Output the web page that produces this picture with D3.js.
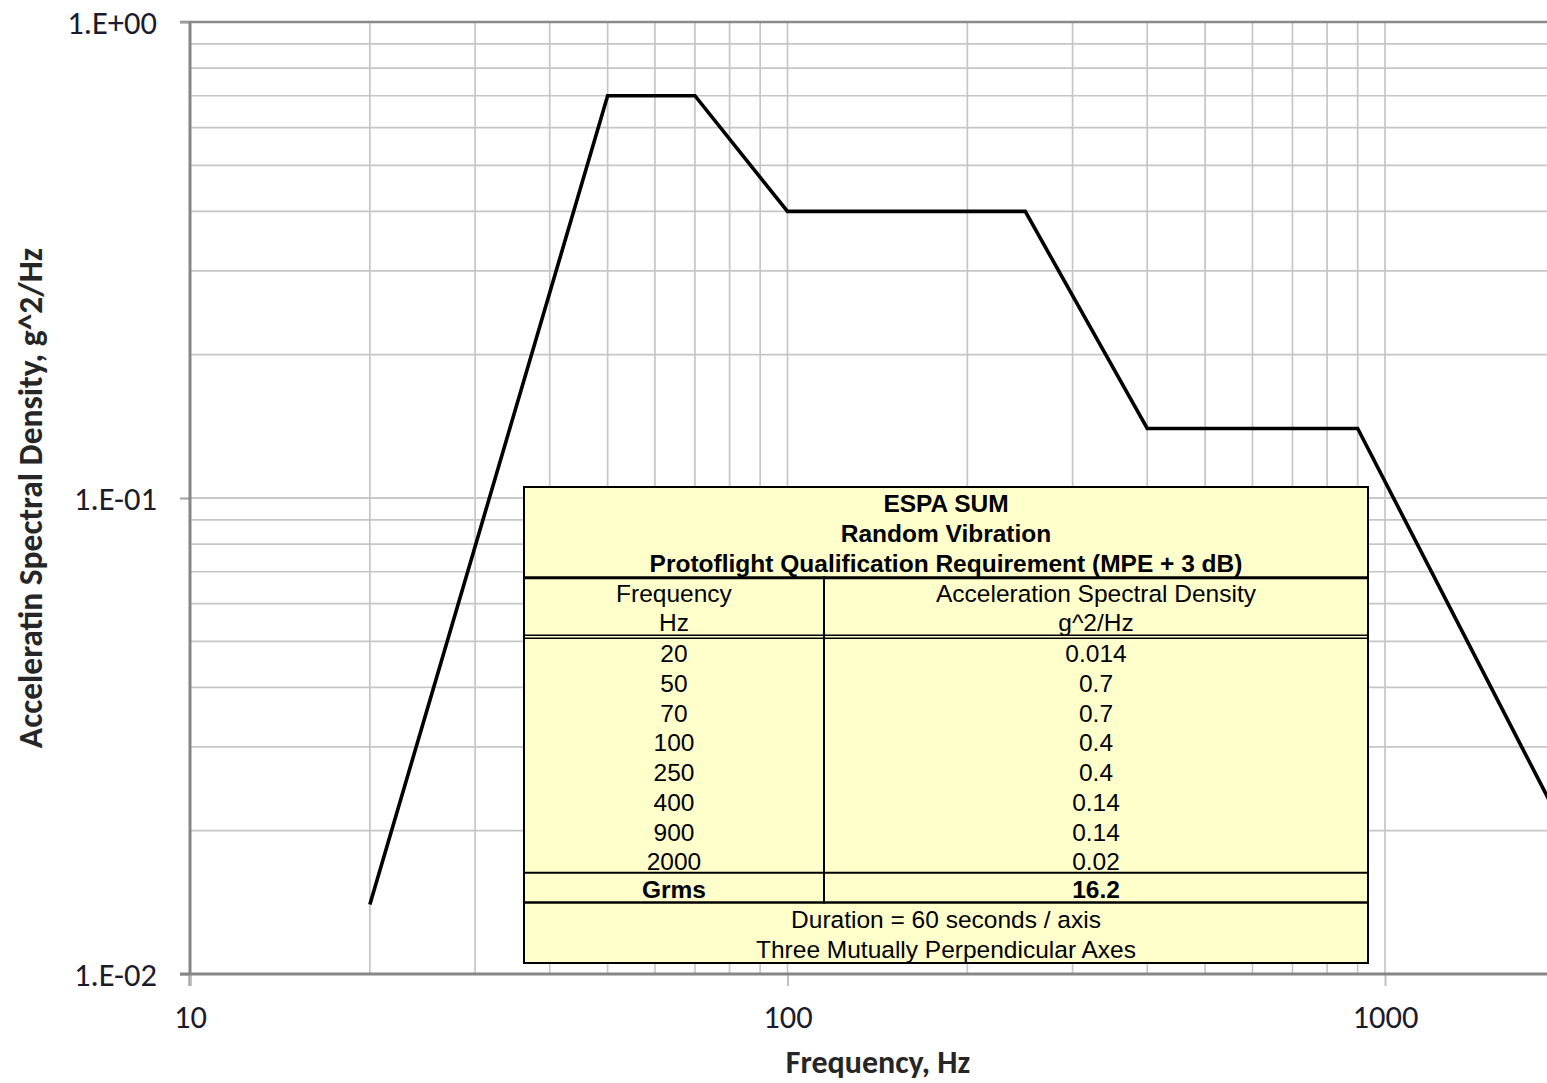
<!DOCTYPE html>
<html>
<head>
<meta charset="utf-8">
<script src="https://cdn.jsdelivr.net/npm/d3@7"></script>
<style>
  html, body { margin: 0; padding: 0; background: #fff; overflow: hidden; }
  svg { display: block; }
</style>
</head>
<body>
<svg id="chart" width="1547" height="1083"></svg>
<script>
// ---- data ----
const frequencies = [20, 50, 70, 100, 250, 400, 900, 2000];
const asd = [0.014, 0.7, 0.7, 0.4, 0.4, 0.14, 0.14, 0.02];
const freqLabels = ["20", "50", "70", "100", "250", "400", "900", "2000"];
const asdLabels = ["0.014", "0.7", "0.7", "0.4", "0.4", "0.14", "0.14", "0.02"];
const xTickValues = [10, 100, 1000];
const xTickLabels = ["10", "100", "1000"];
const yTickValues = [1, 0.1, 0.01];
const yTickLabels = ["1.E+00", "1.E-01", "1.E-02"];
const tableTitle = ["ESPA SUM", "Random Vibration", "Protoflight Qualification Requirement (MPE + 3 dB)"];
const tableHeader = [["Frequency", "Hz"], ["Acceleration Spectral Density", "g^2/Hz"]];
const grms = ["Grms", "16.2"];
const tableFooter = ["Duration = 60 seconds / axis", "Three Mutually Perpendicular Axes"];

const svg = d3.select("#chart");
const L = 190, T = 22, B = 974;
const decade = 597.5;
const R = L + Math.log10(2000 / 10) * decade;

const x = d3.scaleLog().domain([10, 2000]).range([L, R]);
const y = d3.scaleLog().domain([0.01, 1]).range([B, T]);

// minor grid values
const xGrid = [];
[10, 100, 1000].forEach(d => { for (let k = 1; k <= 9; k++) { const v = d * k; if (v <= 2000) xGrid.push(v); } });
const yGrid = [];
[0.01, 0.1].forEach(d => { for (let k = 1; k <= 10; k++) yGrid.push(+(d * k).toPrecision(3)); });

const grid = svg.append("g");
grid.selectAll("line.vg").data(xGrid.filter(v => v > 10)).join("line")
  .attr("x1", d => x(d)).attr("x2", d => x(d)).attr("y1", T).attr("y2", B)
  .attr("stroke", "#c6c6c6").attr("stroke-width", 1.7);
grid.selectAll("line.hg").data(yGrid.filter(v => v > 0.01 && v < 1)).join("line")
  .attr("x1", L).attr("x2", R).attr("y1", d => y(d)).attr("y2", d => y(d))
  .attr("stroke", "#c6c6c6").attr("stroke-width", 1.7);

// top border
svg.append("line").attr("x1", L - 10).attr("x2", R).attr("y1", T).attr("y2", T)
  .attr("stroke", "#8a8a8a").attr("stroke-width", 2.5);

const tickFont = "Carlito, Lato, 'Liberation Sans', sans-serif";

// axes
const yAxis = d3.axisLeft(y).tickValues(yTickValues).tickSize(10).tickFormat((d, i) => yTickLabels[i]);
const gy = svg.append("g").attr("transform", `translate(${L},0)`).call(yAxis);
gy.select(".domain").remove();
gy.append("line").attr("x1", 0).attr("x2", 0).attr("y1", T).attr("y2", B + 12)
  .attr("stroke", "#868686").attr("stroke-width", 3);
gy.selectAll(".tick line").attr("stroke", "#a0a0a0").attr("stroke-width", 2);
gy.selectAll(".tick text").attr("x", -33).attr("dy", "0.34em")
  .attr("fill", "#1b1b2b").style("font-family", tickFont).style("font-size", "32.5px");

const xAxis = d3.axisBottom(x).tickValues(xTickValues).tickSize(12).tickFormat((d, i) => xTickLabels[i]);
const gx = svg.append("g").attr("transform", `translate(0,${B})`).call(xAxis);
gx.select(".domain").remove();
gx.append("line").attr("x1", L - 10).attr("x2", R).attr("y1", 0).attr("y2", 0)
  .attr("stroke", "#868686").attr("stroke-width", 3);
gx.selectAll(".tick line").attr("stroke", "#c0c0c0").attr("stroke-width", 2);
gx.selectAll(".tick text").attr("y", 43).attr("dy", "0.34em")
  .attr("fill", "#1b1b2b").style("font-family", tickFont).style("font-size", "32.5px");

// line
const line = d3.line().x((d, i) => x(frequencies[i])).y(d => y(d));
svg.append("path").datum(asd).attr("d", line)
  .attr("fill", "none").attr("stroke", "#000").attr("stroke-width", 3.6).attr("stroke-linejoin", "miter");

// axis titles
svg.append("text").attr("transform", `translate(30,${(T + B) / 2}) rotate(-90)`)
  .attr("text-anchor", "middle").attr("dominant-baseline", "central")
  .style("font-family", tickFont).style("font-weight", "bold").style("font-size", "33.5px")
  .attr("fill", "#262626").text("Acceleratin Spectral Density, g^2/Hz");
svg.append("text").attr("x", 878).attr("y", 1062)
  .attr("text-anchor", "middle").attr("dominant-baseline", "central")
  .style("font-family", tickFont).style("font-weight", "bold").style("font-size", "32px")
  .attr("fill", "#262626").text("Frequency, Hz");

// table
const tL = 524, tR = 1368, tTop = 487, tBot = 963, colX = 824;
const nRows = tableTitle.length + 2 + frequencies.length + 1 + tableFooter.length;
const rowY = d3.scaleLinear().domain([0, nRows]).range([tTop, tBot]);
const tg = svg.append("g").style("font-family", "'Liberation Sans', Arial, sans-serif")
  .style("font-size", "24.5px").attr("fill", "#000");
tg.append("rect").attr("x", tL).attr("y", tTop).attr("width", tR - tL).attr("height", tBot - tTop)
  .attr("fill", "#ffffcc").attr("stroke", "#000").attr("stroke-width", 2);

const rTitleEnd = tableTitle.length;
const rHeadEnd = rTitleEnd + 2;
const rDataEnd = rHeadEnd + frequencies.length;
const rGrmsEnd = rDataEnd + 1;

function cellText(row, cx, txt, bold, dy) {
  tg.append("text").attr("x", cx).attr("y", rowY(row + 0.5) + 2 + (dy || 0))
    .attr("text-anchor", "middle").attr("dominant-baseline", "central")
    .style("font-weight", bold ? "bold" : "normal").text(txt);
}
const c1 = (tL + colX) / 2, c2 = (colX + tR) / 2, cAll = (tL + tR) / 2;
tableTitle.forEach((t, i) => cellText(i, cAll, t, true));
tableHeader[0].forEach((t, i) => cellText(rTitleEnd + i, c1, t, false));
tableHeader[1].forEach((t, i) => cellText(rTitleEnd + i, c2, t, false));
freqLabels.forEach((t, i) => cellText(rHeadEnd + i, c1, t, false, 1));
asdLabels.forEach((t, i) => cellText(rHeadEnd + i, c2, t, false, 1));
cellText(rDataEnd, c1, grms[0], true, -1);
cellText(rDataEnd, c2, grms[1], true, -1);
tableFooter.forEach((t, i) => cellText(rGrmsEnd + i, cAll, t, false, -1));

function hline(yy, w) {
  tg.append("line").attr("x1", tL).attr("x2", tR).attr("y1", yy).attr("y2", yy).attr("stroke", "#000").attr("stroke-width", w);
}
hline(rowY(rTitleEnd) + 1.5, 3.2);
hline(rowY(rHeadEnd) - 0.5, 1.3);
hline(rowY(rHeadEnd) + 2.5, 1.3);
hline(rowY(rDataEnd) - 1, 2);
hline(rowY(rGrmsEnd) - 1, 2.6);
tg.append("line").attr("x1", colX).attr("x2", colX).attr("y1", rowY(rTitleEnd)).attr("y2", rowY(rGrmsEnd))
  .attr("stroke", "#000").attr("stroke-width", 2);
</script>
</body>
</html>
